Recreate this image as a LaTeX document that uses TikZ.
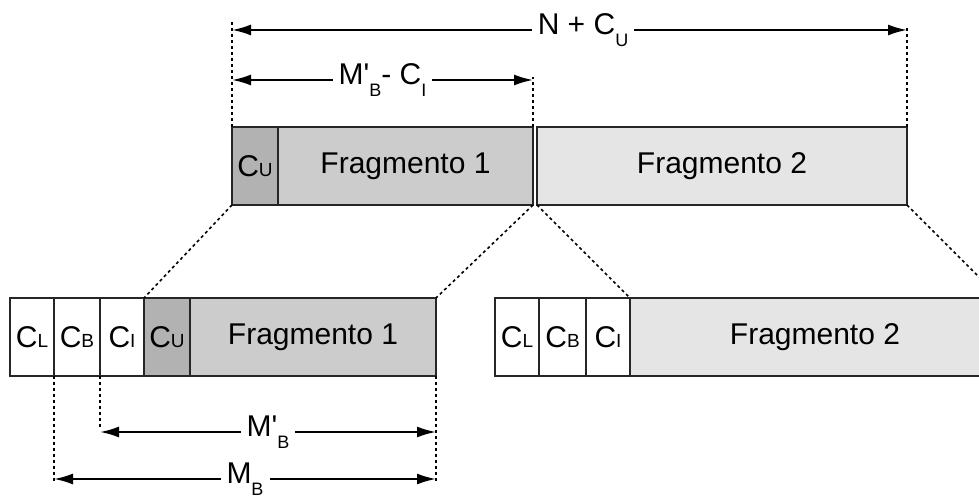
\documentclass[tikz,border=0pt]{standalone}
\usepackage{fontspec}
\setmainfont{Liberation Sans}
\usetikzlibrary{arrows.meta}

\newcommand{\cellC}[1]{C{\fontsize{9.5}{9.5}\selectfont #1}}
\newcommand{\lowsub}[1]{\raisebox{-6pt}{\fontsize{9}{9}\selectfont #1}}

\tikzset{
  cell/.style={draw=black!85, line width=0.7pt, anchor=north west, inner sep=0pt, outer sep=0pt,
    minimum height=39pt, font=\fontsize{15}{17}\selectfont},
  guide/.style={line width=0.8pt, dash pattern=on 1.5pt off 1.5pt},
  dim/.style={line width=1pt, {Latex[length=9.5pt,width=5.5pt]}-{Latex[length=9.5pt,width=5.5pt]}},
  dimlabel/.style={fill=white, inner sep=3pt, font=\fontsize{15}{17}\selectfont}
}

\begin{document}
\begin{tikzpicture}[x=0.5pt,y=-0.5pt]
  \useasboundingbox (0,0) rectangle (979,501);
  \clip (0,0) rectangle (979,501);

  % upper row
  \node[cell, fill=black!30, minimum width=23pt] (tcu) at (232,127) {\cellC{U}};
  \node[cell, fill=black!20, minimum width=127.5pt] (tf1) at (tcu.north east) {Fragmento 1};
  \node[cell, fill=black!10, minimum width=185pt] (tf2) at (537,127) {Fragmento 2};

  % lower row, first fragment
  \node[cell, fill=white, minimum width=22pt] (bcl) at (10,298) {\cellC{L}};
  \node[cell, fill=white, minimum width=23pt] (bcb) at (bcl.north east) {\cellC{B}};
  \node[cell, fill=white, minimum width=22pt] (bci) at (bcb.north east) {\cellC{I}};
  \node[cell, fill=black!30, minimum width=23pt] (bcu) at (bci.north east) {\cellC{U}};
  \node[cell, fill=black!20, minimum width=123pt] (bf1) at (bcu.north east) {Fragmento 1};

  % lower row, second fragment
  \node[cell, fill=white, minimum width=22pt] (rcl) at (495,298) {\cellC{L}};
  \node[cell, fill=white, minimum width=23.5pt] (rcb) at (rcl.north east) {\cellC{B}};
  \node[cell, fill=white, minimum width=22pt] (rci) at (rcb.north east) {\cellC{I}};
  \node[cell, fill=black!10, minimum width=185pt] (rf2) at (rci.north east) {Fragmento 2};

  \draw[guide] (tcu.south west) -- (bcu.north west);
  \draw[guide] (tf1.south east) -- (bf1.north east);
  \draw[guide] (tf2.south west) -- (rf2.north west);
  \draw[guide] (tf2.south east) -- (rf2.north east);

  % sizes on top
  \draw[guide] (tcu.north west) -- (tcu.north west |- 0,20);
  \draw[guide] (tf2.north east) -- (tf2.north east |- 0,25);
  \draw[guide] (tf1.north east) -- (tf1.north east |- 0,77);
  \draw[dim] (tcu.north west |- 0,30) -- node[dimlabel, pos=0.52] {N + C\lowsub{U}} (tf2.north east |- 0,30);
  \draw[dim] (tcu.north west |- 0,80) -- node[dimlabel] {M\textquotesingle\lowsub{B}- C\lowsub{I}} (tf1.north east |- 0,80);

  % sizes below
  \draw[guide] (bcb.south west) -- (bcb.south west |- 0,482);
  \draw[guide] (bci.south west) -- (bci.south west |- 0,427);
  \draw[guide] (bf1.south east) -- (bf1.south east |- 0,482);
  \draw[dim] (bci.south west |- 0,432) -- node[dimlabel] {M\textquotesingle\lowsub{B}} (bf1.south east |- 0,432);
  \draw[dim] (bcb.south west |- 0,479) -- node[dimlabel] {M\lowsub{B}} (bf1.south east |- 0,479);
\end{tikzpicture}
\end{document}
